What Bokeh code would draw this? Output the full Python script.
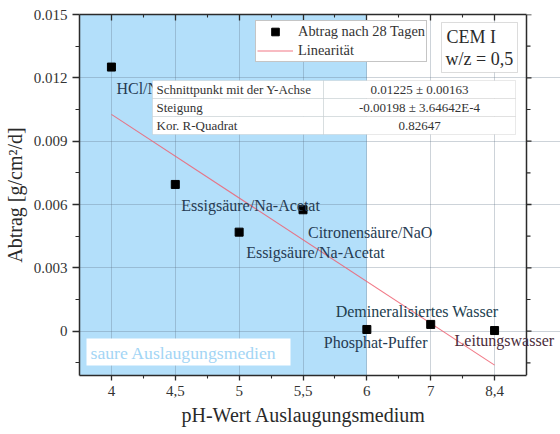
from bokeh.plotting import figure
from bokeh.models import (ColumnDataSource, FixedTicker, LinearAxis, Range1d,
                          BoxAnnotation, Label, Legend, LegendItem, Span, Title)
from bokeh.embed import file_html
from bokeh.resources import INLINE

# ---------------- data ----------------
ph_labels = ["4", "4,5", "5", "5,5", "6", "7", "8,4"]
x_pos = [1, 2, 3, 4, 5, 6, 7]
abtrag = [0.01251, 0.00695, 0.00469, 0.00575, 0.00008, 0.00032, 0.00003]
medium = ["HCl/NaCl", "Essigsäure/Na-Acetat", "Essigsäure/Na-Acetat",
          "Citronensäure/NaO", "Phosphat-Puffer", "Demineralisiertes Wasser",
          "Leitungswasser"]
fit_intercept = 0.01225
fit_slope = -0.00198
fit_rows = ["Schnittpunkt mit der Y-Achse", "Steigung", "Kor. R-Quadrat"]
fit_values = ["0.01225 ± 0.00163", "-0.00198 ± 3.64642E-4", "0.82647"]
y_ticks = [0, 0.003, 0.006, 0.009, 0.012, 0.015]
y_tick_labels = ["0", "0.003", "0.006", "0.009", "0.012", "0.015"]
acid_limit_ph = "6"

# ---------------- layout / style ----------------
FONT = "Liberation Serif"
W, H = 560, 434
FL, FT, FB = 79, 14, 375          # frame left / top / bottom (px)
AX_R_PX = 526                     # where the right axis line sits (px)
X0, XR = 0.5, 7.5                 # data x at left axis / right axis
PXU = (AX_R_PX - FL) / (XR - X0)  # px per x unit
X1 = X0 + (W - FL) / PXU          # frame extends to the window edge (for overflowing text)
Y0, Y1 = -0.0021, 0.015

def dx(px):
    return X0 + (px - FL) / PXU

def dy(py):
    return Y1 - (py - FT) / (FB - FT) * (Y1 - Y0)

p = figure(width=W, height=H, x_range=Range1d(X0, X1), y_range=Range1d(Y0, Y1),
           output_backend="svg", toolbar_location=None,
           min_border_left=FL, min_border_right=0,
           min_border_top=FT, min_border_bottom=H - FB)
p.outline_line_color = None
p.background_fill_color = "white"
p.border_fill_color = "white"

x_minor = [x + 0.5 for x in x_pos[:-1]]
y_minor = [t + 0.0015 for t in [-0.003] + y_ticks[:-1]]
xt = FixedTicker(ticks=x_pos, minor_ticks=x_minor)
yt = FixedTicker(ticks=y_ticks, minor_ticks=y_minor)

AX = "#2b2b2b"
def style_axis(ax):
    ax.axis_line_color = AX
    ax.axis_line_width = 1.5
    ax.major_tick_line_color = AX
    ax.minor_tick_line_color = AX
    ax.major_tick_line_width = 1.3
    ax.minor_tick_line_width = 1.1
    ax.major_label_text_font = FONT
    ax.major_label_text_font_size = "15px"
    ax.major_label_text_color = "#333333"
    ax.axis_label_text_font = FONT
    ax.axis_label_text_font_size = "20px"
    ax.axis_label_text_font_style = "normal"
    ax.axis_label_text_color = "#2a2a2a"

xa = p.xaxis[0]
xa.ticker = xt
xa.bounds = (X0, XR)
xa.major_label_overrides = {x: l for x, l in zip(x_pos, ph_labels)}
style_axis(xa)
xa.major_tick_out = 5
xa.major_tick_in = 0
xa.minor_tick_out = 3
xa.minor_tick_in = 0
xa.major_label_standoff = 5

# x title, centred under the axis part of the frame (frame runs on to the window edge)
XTITLE_W = 243  # approx. rendered width of the title text (px)
xtitle = Title(text="pH-Wert Auslaugungsmedium", align="left",
               offset=(AX_R_PX - FL) / 2 - XTITLE_W / 2, standoff=7,
               text_font=FONT, text_font_size="20px", text_font_style="normal",
               text_color="#2a2a2a")
p.add_layout(xtitle, "below")

ya = p.yaxis[0]
ya.ticker = yt
ya.major_label_overrides = {t: l for t, l in zip(y_ticks, y_tick_labels)}
ya.axis_label = "Abtrag [g/cm²/d]"
style_axis(ya)
ya.major_tick_out = 7
ya.major_tick_in = 0
ya.minor_tick_out = 4
ya.minor_tick_in = 0
ya.major_label_standoff = 5
ya.axis_label_standoff = 5

top = LinearAxis(ticker=FixedTicker(ticks=x_pos, minor_ticks=x_minor), bounds=(X0, XR))
style_axis(top)
top.major_label_text_font_size = "1px"
top.major_label_text_color = None
top.major_label_standoff = 0
top.major_tick_out = 0
top.major_tick_in = 6
top.minor_tick_out = 0
top.minor_tick_in = 3
p.add_layout(top, "above")

for g, tk in ((p.xgrid[0], xt), (p.ygrid[0], yt)):
    g.ticker = tk
    g.grid_line_color = "#5a6e80"
    g.grid_line_alpha = 0.3
    g.grid_line_width = 1
p.ygrid[0].bounds = (X0, XR)

# acidic region (pH up to 6)
acid_x = x_pos[ph_labels.index(acid_limit_ph)]
p.add_layout(BoxAnnotation(right=acid_x, fill_color="#b3dffa", fill_alpha=1.0,
                           line_color=None, level="image"))

# right axis line with outward ticks
p.add_layout(Span(location=XR, dimension="height", line_color=AX, line_width=1.5))
p.segment(x0=[XR] * len(y_ticks), y0=y_ticks, x1=[XR + 5 / PXU] * len(y_ticks), y1=y_ticks,
          line_color=AX, line_width=1.3)
p.segment(x0=[XR] * len(y_minor), y0=y_minor, x1=[XR + 4 / PXU] * len(y_minor), y1=y_minor,
          line_color=AX, line_width=1.1)

# regression line
line_x = [x_pos[0], x_pos[-1]]
line_y = [fit_intercept + fit_slope * x for x in line_x]
ln = p.line(line_x, line_y, line_color="#ee6272", line_width=1.1, line_alpha=0.85)

src = ColumnDataSource(dict(x=x_pos, y=abtrag, name=medium))
sq = p.scatter("x", "y", source=src, marker="square", size=8,
               fill_color="black", line_color="black")

# point labels (offsets in pixels from each point)
lab_dx = [5, 6, 7, 5, -43, -95, -40]
lab_dy = [-21, -21, -20, -23, -13, 13, -10]
lab_col = ["#263b52", "#263b52", "#263b52", "#263b52", "#263b52", "#22404f", "#4a2c3a"]
for xv, yv, t, ox, oy, c in zip(x_pos, abtrag, medium, lab_dx, lab_dy, lab_col):
    p.add_layout(Label(x=xv, y=yv, text=t, x_offset=ox, y_offset=oy,
                       text_color=c, text_font=FONT, text_font_size="16px",
                       text_align="left", text_baseline="middle"))

# "saure Auslaugungsmedien" box
p.add_layout(BoxAnnotation(left=dx(86), right=dx(290), top=dy(338), bottom=dy(365),
                           fill_color="white", fill_alpha=1.0, line_color=None))
p.add_layout(Label(x=dx(90), y=dy(352), text="saure Auslaugungsmedien",
                   text_font=FONT, text_font_size="17.7px", text_color="#a3d5f5",
                   text_align="left", text_baseline="middle"))

# fit table
t_left, t_mid, t_right = 152, 323, 515
row_tops = [80, 98, 116]
row_h = 18
for i, (name, val) in enumerate(zip(fit_rows, fit_values)):
    t = row_tops[i]
    for l, r in ((t_left, t_mid), (t_mid, t_right)):
        p.add_layout(BoxAnnotation(left=dx(l), right=dx(r), top=dy(t), bottom=dy(t + row_h),
                                   fill_color="white", fill_alpha=1.0,
                                   line_color="#b5b5b5", line_width=1))
    p.add_layout(Label(x=dx(t_left + 4), y=dy(t + row_h / 2), text=name,
                       text_font=FONT, text_font_size="13px", text_color="#333333",
                       text_align="left", text_baseline="middle"))
    p.add_layout(Label(x=dx((t_mid + t_right) / 2), y=dy(t + row_h / 2), text=val,
                       text_font=FONT, text_font_size="13px", text_color="#333333",
                       text_align="center", text_baseline="middle"))

# CEM box
p.add_layout(BoxAnnotation(left=dx(441), right=dx(517), top=dy(22), bottom=dy(72),
                           fill_color="white", fill_alpha=1.0,
                           line_color="#8c8c8c", line_width=1))
p.add_layout(Label(x=dx(446), y=dy(36), text="CEM I", text_font=FONT,
                   text_font_size="18px", text_color="#2a2a2a",
                   text_align="left", text_baseline="middle"))
p.add_layout(Label(x=dx(445), y=dy(58), text="w/z = 0,5", text_font=FONT,
                   text_font_size="18px", text_color="#2a2a2a",
                   text_align="left", text_baseline="middle"))

# legend (location = bottom-left corner, measured from frame bottom-left)
legend = Legend(items=[LegendItem(label="Abtrag nach 28 Tagen", renderers=[sq]),
                       LegendItem(label="Linearität", renderers=[ln])],
                location=(255 - FL, FB - 62))
legend.label_text_font = FONT
legend.label_text_font_size = "14.4px"
legend.label_text_color = "#333333"
legend.border_line_color = "#8c8c8c"
legend.border_line_width = 1
legend.background_fill_color = "white"
legend.background_fill_alpha = 1.0
legend.padding = 1
legend.margin = 0
legend.spacing = 0
legend.glyph_width = 36
legend.glyph_height = 19
legend.label_height = 19
legend.label_standoff = 5
p.add_layout(legend)

open("out.html", "w").write(file_html(p, INLINE))
